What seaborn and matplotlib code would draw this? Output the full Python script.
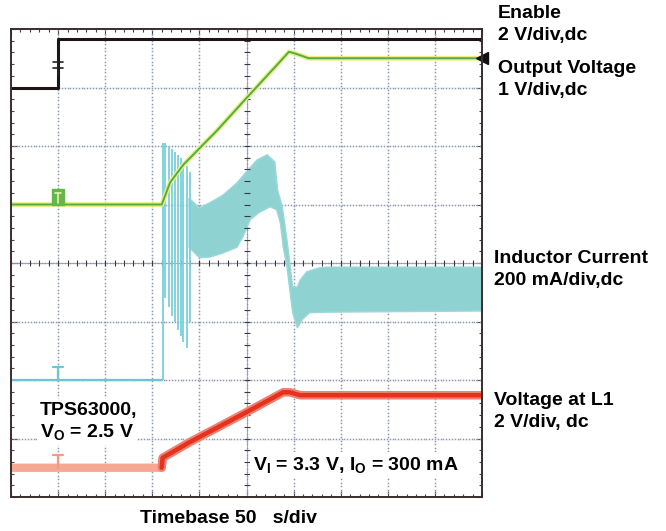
import matplotlib
matplotlib.use('Agg')
import matplotlib.pyplot as plt
import seaborn as sns
import numpy as np
from matplotlib.patches import Rectangle

# scope screen: time in microseconds (50 us/div), level in screen divisions
enable_t = [0, 50, 50, 500]
enable_y = [7.0, 7.0, 7.83, 7.83]

vout_t = [0, 160, 169, 183, 219, 250, 290, 295, 302, 316, 500]
vout_y = [5.0, 5.0, 5.38, 5.68, 6.27, 6.82, 7.52, 7.61, 7.58, 7.50, 7.50]

il_base_t = [0, 160]
il_base_y = [2.0, 2.0]
spike_t = [161, 164, 168, 171, 174, 177, 180, 183, 187, 190]
spike_top = [6.05, 6.05, 6.0, 5.95, 5.9, 5.85, 5.8, 5.7, 5.65, 5.55]
spike_bot = [2.0, 3.4, 3.25, 3.1, 3.0, 2.85, 2.75, 2.65, 2.55, 3.0]
band_up_t = [189, 200, 211, 225, 240, 250, 261, 272, 280, 283, 288, 293, 296, 299, 304, 307, 314, 328, 339, 500]
band_up_y = [5.11, 4.94, 5.03, 5.16, 5.37, 5.56, 5.76, 5.85, 5.73, 5.25, 4.96, 4.39, 4.0, 3.59, 3.59, 3.71, 3.85, 3.92, 3.93, 3.93]
band_lo_t = [189, 200, 211, 225, 240, 246, 254, 264, 275, 282, 286, 289, 293, 296, 299, 304, 309, 317, 339, 500]
band_lo_y = [4.27, 4.09, 4.10, 4.17, 4.27, 4.44, 4.74, 4.87, 4.96, 4.91, 4.68, 4.27, 3.93, 3.54, 3.15, 2.89, 3.03, 3.15, 3.16, 3.18]

vl1_t = [0, 160, 161, 190, 250, 289, 296, 307, 317, 500]
vl1_y = [0.5, 0.5, 0.67, 0.94, 1.45, 1.79, 1.79, 1.74, 1.74, 1.74]

ref_t = 50  # channel reference markers at 1st division
ref_levels = {'enable': 7.22, 'vout': 5.0, 'il': 2.0, 'vl1': 0.5}

sns.set_theme(style='white')
plt.rcParams['font.family'] = ['Liberation Sans', 'DejaVu Sans']
plt.rcParams['mathtext.fontset'] = 'custom'
plt.rcParams['mathtext.rm'] = 'Liberation Sans:bold'
plt.rcParams['mathtext.default'] = 'rm'

W, H = 666, 531
fig = plt.figure(figsize=(W / 100, H / 100), dpi=100)
ax = fig.add_axes([11 / W, (H - 497) / H, 471 / W, 468 / H])
ax.set_xlim(0, 500)
ax.set_ylim(0, 8)

# graticule
ax.set_xticks(np.arange(0, 501, 10), minor=True)
ax.set_yticks(np.arange(0, 8.01, 0.2), minor=True)
ax.set_xticks(np.arange(0, 501, 50))
ax.set_yticks(np.arange(0, 8.1, 1))
ax.tick_params(which='both', direction='in', top=True, right=True, bottom=True, left=True,
               labelbottom=False, labelleft=False, color='#4a4040', width=0.8)
ax.tick_params(which='major', length=4)
ax.tick_params(which='minor', length=2.5)
for s in ax.spines.values():
    s.set_color('#3a2c2c')
    s.set_linewidth(1.4)
dot_x = np.arange(0, 500.1, 3.0)
dot_y = np.arange(0, 8.001, 0.06)
for gx in np.arange(50, 500, 50):
    ax.plot(np.full_like(dot_y, gx), dot_y, ls='none', marker='s', ms=1.1, mew=0,
            color='#8b9ab0', zorder=1)
for gy in np.arange(1, 8, 1):
    ax.plot(dot_x, np.full_like(dot_x, gy), ls='none', marker='s', ms=1.1, mew=0,
            color='#8b9ab0', zorder=1)
ax.plot([0, 500], [4, 4], color='#9a9aa8', lw=0.6, zorder=1)
ax.plot([250, 250], [0, 8], color='#9a9aa8', lw=0.6, zorder=1)
cx = np.arange(0, 501, 10)
cy = np.arange(0, 8.01, 0.2)
ax.plot(cx, np.full_like(cx, 4.0, dtype=float), ls='none', marker='|', ms=5, mew=0.8, color='#3a3a44')
ax.plot(np.full_like(cy, 250.0), cy, ls='none', marker='_', ms=5, mew=0.8, color='#3a3a44')

# inductor current
sns.lineplot(x=il_base_t, y=il_base_y, ax=ax, color='#6cc6d0', lw=1.6, estimator=None, sort=False)
ax.vlines(spike_t, spike_bot, spike_top, color='#7ad0da', lw=1.3)
ax.fill(np.concatenate([band_up_t, band_lo_t[::-1]]),
        np.concatenate([band_up_y, band_lo_y[::-1]]),
        color='#8fd2d2', ec='#9dd8d8', lw=1.0)

# voltage at L1
sns.lineplot(x=vl1_t, y=vl1_y, ax=ax, color='#f7a892', lw=6, estimator=None, sort=False)
ramp = [i for i, t in enumerate(vl1_t) if t >= 160]
sns.lineplot(x=[vl1_t[i] for i in ramp], y=[vl1_y[i] for i in ramp], ax=ax,
             color='#f08070', lw=6, estimator=None, sort=False)
sns.lineplot(x=[vl1_t[i] for i in ramp], y=[vl1_y[i] for i in ramp], ax=ax,
             color='#e5321e', lw=3.2, estimator=None, sort=False)

# output voltage
sns.lineplot(x=vout_t, y=vout_y, ax=ax, color='#eeee80', lw=3.4, estimator=None, sort=False)
sns.lineplot(x=vout_t, y=vout_y, ax=ax, color='#4cae4c', lw=1.4, estimator=None, sort=False)
ax.plot([vout_t[-1]], [vout_y[-1]], marker='<', ms=9, color='#111', clip_on=False)

# enable
sns.lineplot(x=enable_t, y=enable_y, ax=ax, color='#1e1414', lw=2.2, estimator=None, sort=False)

# reference markers
e0 = ref_levels['enable']
ax.plot([ref_t, ref_t], [e0, e0 + 0.25], color='#222', lw=1.2)
ax.plot([ref_t - 5, ref_t + 5], [e0 + 0.21, e0 + 0.21], color='#222', lw=1.2)
ax.plot([ref_t - 5, ref_t + 5], [e0 + 0.12, e0 + 0.12], color='#222', lw=1.2)
g0 = ref_levels['vout']
ax.add_patch(Rectangle((ref_t - 6, g0), 12, 0.26, color='#62b84a', zorder=5))
ax.plot([ref_t - 3.5, ref_t + 3.5], [g0 + 0.2, g0 + 0.2], color='#e8f0b0', lw=1.2, zorder=6)
ax.plot([ref_t, ref_t], [g0 + 0.03, g0 + 0.2], color='#e8f0b0', lw=1.2, zorder=6)
for key, col in [('il', '#6cc6d0'), ('vl1', '#f29a86')]:
    b = ref_levels[key]
    ax.plot([ref_t - 5, ref_t + 5], [b + 0.22, b + 0.22], color=col, lw=1.6)
    ax.plot([ref_t, ref_t], [b, b + 0.22], color=col, lw=1.6)

ax.set_xlabel('')
ax.set_ylabel('')


def ftext(x, y, s, **kw):
    fig.text(x / W, 1 - y / H, s, fontsize=14, fontweight='bold', color='black',
             va='baseline', ha='left', **kw)


ftext(498, 18, 'Enable')
ftext(498, 40, '2 V/div,dc')
ftext(498, 73, 'Output Voltage')
ftext(498, 95, '1 V/div,dc')
ftext(494, 263, 'Inductor Current')
ftext(494, 285, '200 mA/div,dc')
ftext(494, 405, 'Voltage at L1')
ftext(494, 427, '2 V/div, dc')
box = dict(facecolor='white', edgecolor='none', pad=2)
ftext(40, 415, 'TPS63000,', bbox=box)
ftext(40, 437, r'V$_{O}$ = 2.5 V', bbox=box)
ftext(253, 470, r'V$_{I}$ = 3.3 V, I$_{O}$ = 300 mA', bbox=box)
ftext(140, 523, 'Timebase 50   s/div')

fig.savefig('out.png', dpi=100)
plt.close(fig)
